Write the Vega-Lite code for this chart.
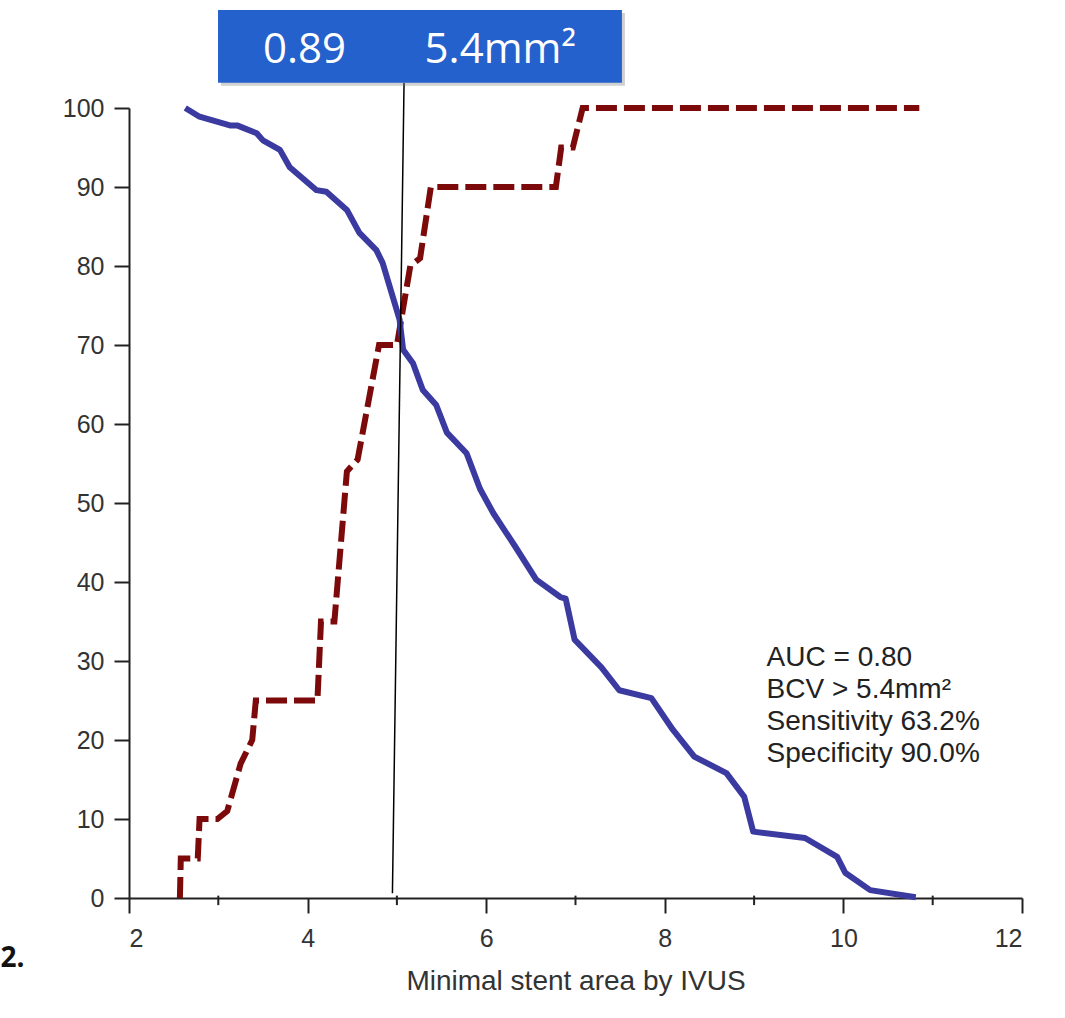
{
  "$schema": "https://vega.github.io/schema/vega-lite/v6.json",
  "autosize": {"type": "none"},
  "width": 893,
  "height": 790,
  "padding": {"left": 129, "top": 108, "right": 43, "bottom": 120},
  "background": "white",
  "config": {
    "view": {"stroke": null},
    "axis": {
      "grid": false,
      "domainColor": "#222",
      "domainWidth": 2,
      "tickColor": "#222",
      "tickWidth": 2,
      "labelFont": "Liberation Sans",
      "labelFontSize": 25,
      "labelColor": "#333",
      "titleFont": "Liberation Sans",
      "titleColor": "#333"
    }
  },
  "datasets": {
    "sens": [
      {"x": 2.63, "y": 100}, {"x": 2.79, "y": 98.9}, {"x": 3.13, "y": 97.8}, {"x": 3.21, "y": 97.8},
      {"x": 3.43, "y": 96.8}, {"x": 3.5, "y": 95.9}, {"x": 3.69, "y": 94.7}, {"x": 3.8, "y": 92.5},
      {"x": 4.1, "y": 89.6}, {"x": 4.21, "y": 89.4}, {"x": 4.44, "y": 87.1}, {"x": 4.58, "y": 84.2},
      {"x": 4.77, "y": 82.0}, {"x": 4.84, "y": 80.4}, {"x": 5.03, "y": 73.2}, {"x": 5.07, "y": 69.4},
      {"x": 5.18, "y": 67.7}, {"x": 5.29, "y": 64.3}, {"x": 5.44, "y": 62.4}, {"x": 5.56, "y": 58.9},
      {"x": 5.78, "y": 56.3}, {"x": 5.93, "y": 51.8}, {"x": 6.08, "y": 48.7}, {"x": 6.33, "y": 44.4},
      {"x": 6.56, "y": 40.3}, {"x": 6.83, "y": 38.1}, {"x": 6.89, "y": 37.9}, {"x": 6.99, "y": 32.7},
      {"x": 7.29, "y": 29.2}, {"x": 7.49, "y": 26.3}, {"x": 7.85, "y": 25.3}, {"x": 8.09, "y": 21.3},
      {"x": 8.33, "y": 17.9}, {"x": 8.69, "y": 15.8}, {"x": 8.89, "y": 12.8}, {"x": 8.99, "y": 8.4},
      {"x": 9.57, "y": 7.6}, {"x": 9.93, "y": 5.2}, {"x": 10.02, "y": 3.2}, {"x": 10.3, "y": 1.0},
      {"x": 10.81, "y": 0.1}
    ],
    "spec": [
      {"x": 2.57, "y": 0}, {"x": 2.58, "y": 5}, {"x": 2.77, "y": 5}, {"x": 2.79, "y": 10},
      {"x": 2.99, "y": 10}, {"x": 3.1, "y": 11}, {"x": 3.25, "y": 17}, {"x": 3.38, "y": 20},
      {"x": 3.42, "y": 25}, {"x": 4.11, "y": 25}, {"x": 4.15, "y": 35}, {"x": 4.3, "y": 35},
      {"x": 4.44, "y": 54}, {"x": 4.56, "y": 55.5}, {"x": 4.8, "y": 70}, {"x": 5.0, "y": 70},
      {"x": 5.15, "y": 80}, {"x": 5.26, "y": 81}, {"x": 5.38, "y": 90}, {"x": 6.78, "y": 90},
      {"x": 6.84, "y": 95}, {"x": 6.97, "y": 95}, {"x": 7.08, "y": 100}, {"x": 10.85, "y": 100}
    ],
    "cut": [{"x": 5.08, "y": 103.2}, {"x": 4.95, "y": 0.6}],
    "minor": [{"x": 3}, {"x": 5}, {"x": 7}, {"x": 9}, {"x": 11}],
    "box": [{"x": 2.997, "x2": 7.52, "y": 112.4, "y2": 103.2}],
    "boxText": [{"x": 3.5, "y": 105.7, "label": "0.89"}, {"x": 5.31, "y": 105.7, "label": "5.4mm²"}]
  },
  "encoding": {
    "x": {"type": "quantitative"},
    "y": {"type": "quantitative"}
  },
  "layer": [
    {
      "data": {"name": "minor"},
      "mark": {"type": "rule", "color": "#222", "strokeWidth": 2},
      "encoding": {
        "x": {"field": "x", "type": "quantitative",
          "scale": {"domain": [2, 12], "nice": false, "zero": false},
          "axis": {"values": [2, 4, 6, 8, 10, 12], "format": "d", "tickSize": 15, "labelPadding": 13,
            "title": "Minimal stent area by IVUS", "titleFontSize": 28, "titleFontWeight": "normal", "titlePadding": 16}},
        "y": {"datum": 0.3, "type": "quantitative",
          "scale": {"domain": [0, 100], "nice": false, "zero": false},
          "axis": {"values": [0, 10, 20, 30, 40, 50, 60, 70, 80, 90, 100], "format": "d", "tickSize": 15, "labelPadding": 10, "title": null}},
        "y2": {"datum": -0.9}
      }
    },
    {
      "data": {"name": "spec"},
      "mark": {"type": "line", "color": "#7d0a0a", "strokeWidth": 6, "strokeDash": [21, 7], "strokeCap": "butt"},
      "encoding": {
        "x": {"field": "x", "type": "quantitative"},
        "y": {"field": "y", "type": "quantitative"}
      }
    },
    {
      "data": {"name": "sens"},
      "mark": {"type": "line", "color": "#3a3aa0", "strokeWidth": 6, "strokeJoin": "round"},
      "encoding": {
        "x": {"field": "x", "type": "quantitative"},
        "y": {"field": "y", "type": "quantitative"}
      }
    },
    {
      "data": {"name": "cut"},
      "mark": {"type": "line", "color": "#000", "strokeWidth": 1.5},
      "encoding": {
        "x": {"field": "x", "type": "quantitative"},
        "y": {"field": "y", "type": "quantitative"}
      }
    },
    {
      "data": {"name": "box"},
      "mark": {"type": "rect", "color": "#777", "opacity": 0.35, "xOffset": 3, "x2Offset": 3, "yOffset": 3, "y2Offset": 3},
      "encoding": {
        "x": {"field": "x", "type": "quantitative"},
        "x2": {"field": "x2"},
        "y": {"field": "y", "type": "quantitative"},
        "y2": {"field": "y2"}
      }
    },
    {
      "data": {"name": "box"},
      "mark": {"type": "rect", "color": "#2461cc"},
      "encoding": {
        "x": {"field": "x", "type": "quantitative"},
        "x2": {"field": "x2"},
        "y": {"field": "y", "type": "quantitative"},
        "y2": {"field": "y2"}
      }
    },
    {
      "data": {"name": "boxText"},
      "mark": {"type": "text", "color": "white", "font": "Open Sans", "fontSize": 42, "align": "left", "baseline": "alphabetic"},
      "encoding": {
        "x": {"field": "x", "type": "quantitative"},
        "y": {"field": "y", "type": "quantitative"},
        "text": {"field": "label"}
      }
    },
    {
      "data": {"values": [{"label": "AUC = 0.80\nBCV > 5.4mm²\nSensitivity 63.2%\nSpecificity 90.0%"}]},
      "mark": {"type": "text", "color": "#222", "font": "Liberation Sans", "fontSize": 28, "align": "left", "baseline": "top", "lineBreak": "\n", "lineHeight": 32},
      "encoding": {
        "x": {"datum": 9.14, "type": "quantitative"},
        "y": {"datum": 32.2, "type": "quantitative"},
        "text": {"field": "label"}
      }
    },
    {
      "data": {"values": [{"label": "2."}]},
      "mark": {"type": "text", "color": "#111", "font": "Open Sans", "fontSize": 28, "fontWeight": "bold", "align": "right", "baseline": "alphabetic"},
      "encoding": {
        "x": {"datum": 0.83, "type": "quantitative"},
        "y": {"datum": -8.7, "type": "quantitative"},
        "text": {"field": "label"}
      }
    }
  ]
}
